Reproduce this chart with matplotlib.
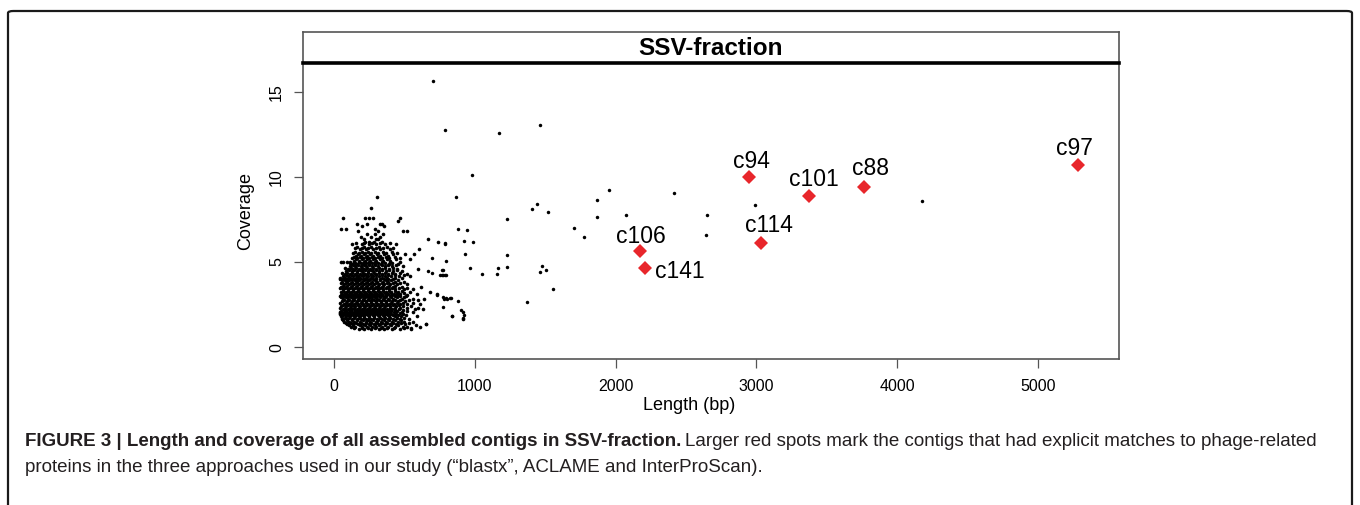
import matplotlib
matplotlib.use("Agg")
import matplotlib.pyplot as plt
from matplotlib.patches import FancyBboxPatch

plt.rcParams['font.family'] = ['Liberation Sans', 'DejaVu Sans']

# ---------------- data ----------------
# dense cluster of short contigs: coverage level of each row and the lengths (bp) in that row
row_cov = [1.05, 1.12, 1.2, 1.28, 1.35, 1.42, 1.5, 1.58, 1.65, 1.72, 1.8, 1.9, 1.95, 2.0,
           2.05, 2.1, 2.17, 2.25, 2.32, 2.4, 2.47, 2.55, 2.62, 2.7, 2.78, 2.85, 2.93, 3.0,
           3.06, 3.12, 3.18, 3.25, 3.32, 3.4, 3.47, 3.55, 3.62, 3.7, 3.78, 3.85, 3.92, 4.0,
           4.07, 4.15, 4.22, 4.3, 4.37, 4.45, 4.52, 4.6, 4.67, 4.75, 4.82, 4.9, 4.96, 5.02,
           5.08, 5.15, 5.22, 5.3, 5.37, 5.45, 5.52, 5.6, 5.75, 5.82, 5.9, 6.05,
           6.12, 6.2, 6.35, 6.5, 6.65, 6.8, 6.95, 7.1, 7.25, 7.4, 7.6, 8.2, 8.8]
row_lengths = [
    [180, 215, 262, 318, 356, 412, 470, 545],
    [140, 197, 240, 290, 335, 380, 425, 500],
    [120, 150, 198, 236, 270, 301, 344, 385, 430, 488, 520, 612],
    [105, 137, 182, 218, 254, 288, 322, 360, 405, 458, 580],
    [95, 133, 170, 205, 248, 283, 326, 362, 398, 441, 505, 654],
    [85, 120, 155, 190, 228, 265, 305, 343, 380, 420, 475, 530],
    [72, 110, 142, 188, 224, 259, 297, 331, 373, 409, 452, 498, 560],
    [65, 95, 128, 165, 205, 242, 278, 314, 352, 390, 432, 478],
    [58, 90, 126, 161, 193, 231, 266, 308, 340, 381, 420, 466, 530, 913],
    [55, 75, 108, 143, 177, 212, 248, 287, 324, 360, 400, 445, 500],
    [50, 82, 115, 149, 182, 215, 250, 287, 322, 358, 392, 430, 478, 590, 837],
    [63, 99, 136, 171, 205, 242, 276, 311, 349, 384, 418, 455, 510],
    [45, 81, 118, 153, 188, 224, 259, 294, 330, 366, 402, 440, 490],
    [40, 55, 68, 80, 92, 104, 117, 129, 141, 153, 166, 178, 190, 203, 216, 229, 243, 258,
     274, 291, 309, 328, 350, 372, 398, 431, 468],
    [46, 72, 106, 139, 172, 207, 241, 278, 314, 350, 386, 425, 480, 560],
    [52, 88, 121, 157, 189, 224, 260, 296, 333, 367, 405, 447, 520],
    [79, 113, 146, 180, 215, 250, 285, 320, 355, 392, 432, 490],
    [61, 97, 130, 163, 198, 233, 268, 302, 339, 376, 414, 460, 575, 633],
    [44, 78, 112, 145, 180, 214, 250, 285, 321, 357, 395, 436, 470, 520, 600],
    [48, 84, 118, 152, 187, 221, 254, 290, 325, 362, 401, 442, 492, 548],
    [66, 100, 135, 170, 204, 238, 272, 307, 343, 380, 420, 465],
    [70, 104, 139, 174, 208, 243, 279, 314, 350, 388, 426, 470, 520, 610],
    [45, 87, 121, 156, 190, 225, 261, 297, 332, 368, 406, 448, 490, 560],
    [56, 92, 127, 161, 196, 231, 266, 300, 337, 373, 410, 455, 505],
    [74, 109, 144, 178, 213, 248, 283, 318, 355, 392, 432, 470, 530, 600],
    [66, 100, 135, 169, 204, 239, 273, 309, 345, 382, 421, 480, 560, 640],
    [48, 83, 118, 152, 186, 222, 256, 291, 327, 364, 402, 445, 500],
    [40, 53, 66, 79, 91, 103, 116, 128, 140, 152, 165, 178, 191, 205, 219, 234, 250, 267,
     285, 304, 325, 347, 371, 399, 430, 470, 515],
    [47, 76, 111, 147, 183, 218, 253, 290, 327, 366, 410, 450, 520],
    [58, 94, 130, 166, 200, 236, 271, 306, 342, 381, 423, 470, 590, 730],
    [76, 112, 148, 183, 218, 253, 289, 324, 362, 402, 445, 500],
    [47, 83, 118, 153, 188, 223, 258, 293, 330, 368, 408, 455, 540, 680],
    [65, 100, 136, 171, 206, 241, 276, 312, 349, 388, 430, 480],
    [64, 99, 134, 169, 203, 239, 275, 311, 349, 389, 433, 496, 560],
    [46, 81, 116, 151, 186, 221, 257, 293, 330, 368, 410, 460, 520],
    [52, 88, 122, 157, 192, 228, 264, 300, 338, 378, 422, 480, 615],
    [61, 96, 131, 166, 201, 237, 273, 310, 348, 388, 433],
    [70, 105, 140, 176, 211, 246, 283, 320, 358, 399, 447, 520],
    [48, 86, 122, 158, 193, 228, 264, 301, 339, 378, 420, 470],
    [57, 93, 128, 163, 198, 234, 270, 307, 346, 387, 430, 495],
    [75, 110, 146, 181, 216, 252, 288, 326, 366, 408, 452],
    [40, 53, 66, 79, 92, 105, 118, 131, 144, 158, 172, 187, 203, 220, 238, 257, 278, 300,
     325, 352, 383, 418],
    [45, 80, 117, 153, 188, 224, 261, 298, 338, 380, 430, 480],
    [62, 99, 135, 170, 206, 242, 279, 318, 360, 405, 460, 540],
    [85, 120, 155, 190, 226, 262, 300, 340, 383, 430, 500],
    [75, 112, 148, 185, 222, 260, 299, 340, 386, 437, 520],
    [60, 95, 131, 167, 204, 242, 281, 320, 362, 410, 470],
    [88, 126, 163, 201, 240, 280, 322, 368, 420, 480],
    [107, 145, 183, 221, 260, 300, 342, 390, 445],
    [100, 138, 177, 216, 255, 296, 340, 390, 447, 600],
    [80, 120, 159, 197, 236, 276, 318, 364, 418],
    [115, 152, 191, 231, 272, 315, 362, 415, 490],
    [135, 173, 212, 252, 294, 338, 385, 440],
    [128, 167, 207, 248, 290, 336, 388, 452],
    [112, 150, 189, 229, 270, 313, 360, 415],
    [48, 66, 90, 112, 142, 176, 212, 251, 293, 340, 395, 470],
    [145, 180, 218, 258, 300, 345, 398],
    [160, 198, 238, 280, 326, 378, 440, 540],
    [125, 165, 205, 246, 290, 338, 392, 470],
    [140, 182, 224, 268, 315, 368, 430],
    [155, 195, 236, 280, 328, 385],
    [172, 214, 258, 304, 356, 420, 501, 567],
    [135, 178, 222, 266, 315, 370, 450],
    [150, 196, 242, 290, 345, 410],
    [182, 230, 278, 330, 395, 602],
    [148, 198, 245, 296, 350, 420],
    [165, 212, 262, 318, 380],
    [128, 196, 248, 300, 365, 440],
    [160, 210, 268, 325, 400],
    [223, 251, 285, 342, 739],
    [210, 299, 315, 668],
    [190, 260, 325],
    [235, 290, 350],
    [170, 310, 493, 521],
    [48, 85, 292],
    [200, 353],
    [164, 235, 329, 339],
    [455],
    [66, 223, 251, 275, 469],
    [265],
    [304],
]

# sparse contigs outside the dense cluster
other_len = [704, 790, 1169, 1463, 977, 866, 1868, 1956, 1410, 1442, 1517, 1868, 2075, 1230,
             2416, 2653, 2641, 2987, 4180, 1703, 1778, 880, 948, 927, 989, 790, 932, 1228,
             794, 770, 755, 776, 797, 969, 1048, 1162, 1157, 1230, 1481, 1505, 1460, 1558,
             1370, 782, 801, 828, 880, 773, 903, 920, 927, 837, 913, 666, 699, 777, 766, 789,
             730, 775, 794, 823, 654, 545, 699, 787]
other_cov = [15.65, 12.75, 12.59, 13.08, 10.12, 8.82, 8.63, 9.25, 8.10, 8.39, 7.92, 7.65, 7.76, 7.51,
             9.08, 7.78, 6.59, 8.35, 8.57, 7.02, 6.47, 6.92, 6.90, 6.24, 6.16, 6.08, 5.49, 5.43,
             5.06, 4.53, 4.25, 4.25, 4.25, 4.63, 4.31, 4.65, 4.28, 4.69, 4.75, 4.55, 4.39, 3.43,
             2.63, 2.84, 2.82, 2.86, 2.72, 2.33, 2.19, 2.04, 1.90, 1.80, 1.69, 4.49, 4.33, 4.53, 4.25, 4.25,
             3.06, 2.92, 2.86, 2.86, 1.35, 1.10, 5.25, 6.10]

# phage-related contigs
phage_names = ['c106', 'c141', 'c94', 'c114', 'c101', 'c88', 'c97']
phage_len = [2172, 2212, 2949, 3030, 3376, 3767, 5282]
phage_cov = [5.62, 4.66, 10.02, 6.14, 8.88, 9.43, 10.72]

x_ticks = [0, 1000, 2000, 3000, 4000, 5000]
y_ticks = [0, 5, 10, 15]

# ---------------- figure ----------------
W, H = 1360, 505
fig = plt.figure(figsize=(W / 100, H / 100), dpi=100)

# outer frame
frame = FancyBboxPatch((8 / W, -0.2), (1352 - 8) / W, 1.2 - 11 / H,
                       boxstyle="round,pad=0,rounding_size=0.004",
                       transform=fig.transFigure, fill=False, ec='#1a1a1a', lw=1.6)
fig.patches.append(frame)

L, R, T_strip, T_plot, B = 303, 1119, 31.5, 63, 359
ax = fig.add_axes([L / W, 1 - B / H, (R - L) / W, (B - T_plot) / H])
sx = fig.add_axes([L / W, 1 - T_plot / H, (R - L) / W, (T_plot - T_strip) / H])

# scatter points
cl_x, cl_y = [], []
for c, lens in zip(row_cov, row_lengths):
    cl_x.extend(lens)
    cl_y.extend([c] * len(lens))
ax.plot(cl_x, cl_y, 'o', ms=2.6, mew=0, color='black', zorder=2)
ax.plot(other_len, other_cov, 'o', ms=2.5, mew=0, color='black', zorder=2)
ax.plot(phage_len, phage_cov, 'D', ms=6.8, mew=0, color='#e8262b', zorder=3)

offsets = {'c106': (1, 11), 'c141': (25, -2.5), 'c94': (1.6, 10.8), 'c114': (5.8, 12.7),
           'c101': (3.1, 12.2), 'c88': (4.5, 13), 'c97': (-2.6, 11.8)}
for n, x, y in zip(phage_names, phage_len, phage_cov):
    ax.annotate(n, (x, y), xytext=offsets[n], textcoords='offset points',
                ha='center', va='center', fontsize=16.5, color='black')

ax.set_xlim(-220, 5576)
ax.set_ylim(-0.7, 16.7)
ax.set_xticks(x_ticks)
ax.set_xticklabels([str(v) for v in x_ticks])
ax.set_yticks(y_ticks)
ax.set_yticklabels([str(v) for v in y_ticks], rotation=90, va='center')
ax.tick_params(axis='both', direction='out', length=6.5, width=0.9, color='#555555',
               labelsize=11.5, labelcolor='black')
ax.tick_params(axis='x', pad=8)
ax.tick_params(axis='y', pad=7)
for s in ax.spines.values():
    s.set_color('#555555')
    s.set_linewidth(1.2)
ax.set_xlabel('Length (bp)', fontsize=13)
ax.xaxis.set_label_coords((689 - L) / (R - L), -(405 - B) / (B - T_plot))
ax.xaxis.label.set_va('center')
ax.set_ylabel('Coverage', fontsize=13)
ax.yaxis.set_label_coords(-(L - 246) / (R - L), 0.5)
ax.yaxis.label.set_va('center')

# title strip
sx.set_xticks([])
sx.set_yticks([])
for s in ['top', 'left', 'right']:
    sx.spines[s].set_color('#555555')
    sx.spines[s].set_linewidth(1.2)
sx.spines['bottom'].set_color('black')
sx.spines['bottom'].set_linewidth(2.6)
sx.text(0.5, 0.47, 'SSV-fraction', ha='center', va='center', fontsize=17.5,
        fontweight='bold', transform=sx.transAxes)

# caption
cap_color = '#231f20'
cap_size = 13.5
t1 = fig.text(25 / W, 1 - 441 / H,
              'FIGURE 3 | Length and coverage of all assembled contigs in SSV-fraction.',
              fontsize=cap_size, fontweight='bold', color=cap_color, va='center', ha='left')
fig.canvas.draw()
bb = t1.get_window_extent(renderer=fig.canvas.get_renderer())
fig.text(bb.x1 / W + 4 / W, 1 - 441 / H,
         'Larger red spots mark the contigs that had explicit matches to phage-related',
         fontsize=cap_size, color=cap_color, va='center', ha='left')
fig.text(25 / W, 1 - 468 / H,
         'proteins in the three approaches used in our study (\u201cblastx\u201d, ACLAME and InterProScan).',
         fontsize=cap_size, color=cap_color, va='center', ha='left')

fig.savefig('out.png', dpi=100)
